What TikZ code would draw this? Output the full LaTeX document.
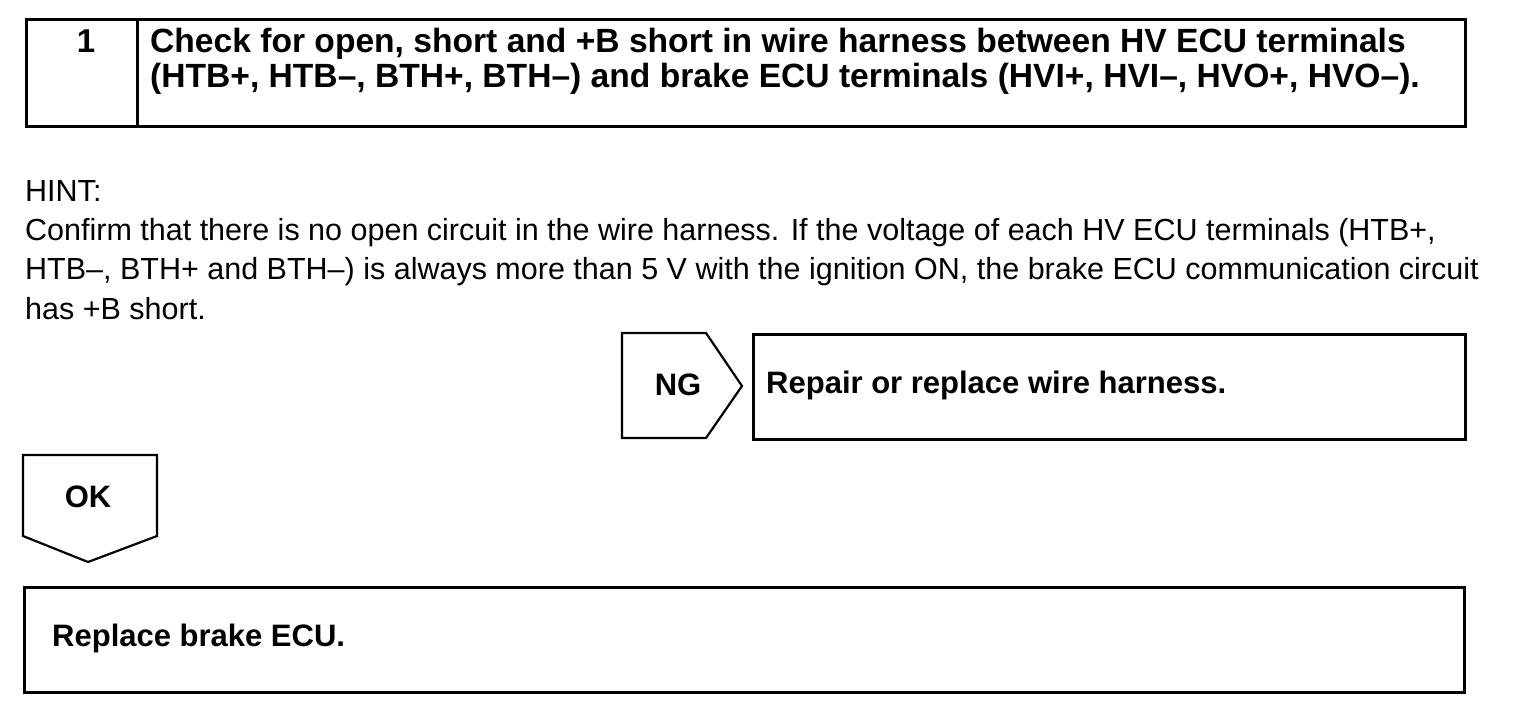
\documentclass[tikz,border=0pt]{standalone}
\usepackage{fontspec}
\setmainfont{Liberation Sans}
\begin{document}
\begin{tikzpicture}[x=1pt,y=-1pt,
  frame/.style={draw=black,line width=2.6pt,minimum height=107pt,anchor=north west,inner sep=0pt},
  sign/.style={draw=black,line width=2.2pt,line join=miter},
  title/.style={font=\bfseries\fontsize{33.6}{35}\selectfont,anchor=north west,align=left,inner sep=0pt},
  label/.style={font=\bfseries\fontsize{31}{34}\selectfont,inner sep=0pt},
  body/.style={font=\fontsize{30.5}{39.3}\selectfont,anchor=north west,align=left,inner sep=0pt}]
\useasboundingbox (0,0) rectangle (1520,724);
% header
\node[frame,minimum width=111pt] (num) at (25,18) {};
\node[frame,minimum width=1328pt] (hdr) at (136,18) {};
\node[label,font=\bfseries\fontsize{33}{35}\selectfont] (one) at (86,41) {1};
\node[title] (ttl) at (150,28) {Check for open, short and +B short in wire harness between HV ECU terminals\\(HTB+, HTB–, BTH+, BTH–) and brake ECU terminals (HVI+, HVI–, HVO+, HVO–).};
% hint
\node[body] (hint) at (25,180) {HINT:\\Confirm that there is no open circuit in the wire harness. If the voltage of each HV ECU terminals (HTB+,\\HTB–, BTH+ and BTH–) is always more than 5 V with the ignition ON, the brake ECU communication circuit\\has +B short.};
% NG
\draw[sign] (622,333) -- (706,333) -- (742,386) -- (706,438) -- (622,438) -- cycle;
\node[label] (ng) at (678,385) {NG};
\node[frame,minimum width=712pt,minimum height=105pt] (repair) at (752,333) {};
\node[label,anchor=west] (repairtxt) at (766,385) {Repair or replace wire harness.};
% OK
\draw[sign] (23,455) -- (157,455) -- (157,536) -- (88,562) -- (23,536) -- cycle;
\node[label] (ok) at (88,497) {OK};
\node[frame,minimum width=1440pt,minimum height=105pt] (replace) at (23,586) {};
\node[label,anchor=west] (replacetxt) at (52,638) {Replace brake ECU.};
\end{tikzpicture}
\end{document}
